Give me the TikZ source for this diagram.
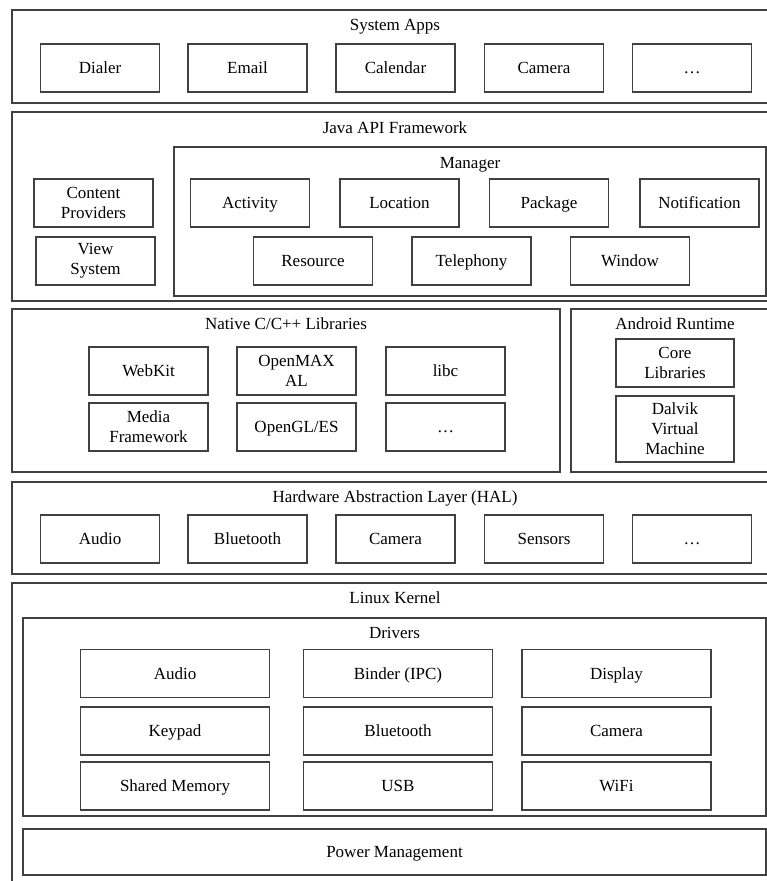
\documentclass[tikz,border=0pt]{standalone}
\usepackage{fontspec}
\setmainfont{Liberation Serif}
\usepackage{tikz}

\begin{document}
\begin{tikzpicture}[x=1pt,y=-1pt,
	font=\fontsize{17}{20}\selectfont,
	layer/.style={draw=black!75, line width=1.4pt},
	title/.style={text height=11.5pt, text depth=0.5pt},
	box/.style={draw=black!75, line width=1.4pt, minimum width=119pt, minimum height=48pt, inner sep=1pt, align=center},
	block/.style={box, title},
	wideblock/.style={block, minimum width=189pt}]

	\useasboundingbox (0,0) rectangle (767,881);
	\clip (0,0) rectangle (767,881);

	% System Apps
	\draw[layer] (12,10) rectangle (778,103);
	\node[title] (apps) at (395,25) {System Apps};
	\node[block] (dialer) at (100,68) {Dialer};
	\node[block] (email) at (247.5,68) {Email};
	\node[block] (calendar) at (395.5,68) {Calendar};
	\node[block] (appcam) at (544,68) {Camera};
	\node[block] (appmore) at (692,68) {\dots};

	% Java API Framework
	\draw[layer] (12,112) rectangle (778,301);
	\node[title] (java) at (395,128) {Java API Framework};
	\node[box] (content) at (93.5,203) {Content\\Providers};
	\node[box] (view) at (95.5,261) {View\\System};
	\draw[layer] (174,147) rectangle (766,296);
	\node[title] (manager) at (470,163) {Manager};
	\node[block] (activity) at (250,203) {Activity};
	\node[block] (location) at (399.5,203) {Location};
	\node[block] (package) at (549,203) {Package};
	\node[block] (notification) at (699.5,203) {Notification};
	\node[block] (resource) at (313,261) {Resource};
	\node[block] (telephony) at (471.5,261) {Telephony};
	\node[block] (window) at (630,261) {Window};

	% Native C/C++ Libraries
	\draw[layer] (12,309) rectangle (560,472);
	\node[title] (native) at (286,324) {Native C/C++ Libraries};
	\node[block] (webkit) at (148.5,371) {WebKit};
	\node[box] (openmax) at (296.5,371) {OpenMAX\\AL};
	\node[block] (libc) at (445.5,371) {libc};
	\node[box] (media) at (148.5,427) {Media\\Framework};
	\node[block] (opengl) at (296.5,427) {OpenGL/ES};
	\node[block] (libmore) at (445.5,427) {\dots};

	% Android Runtime
	\draw[layer] (571,309) rectangle (779,472);
	\node[title] (runtime) at (675,324) {Android Runtime};
	\node[box, minimum width=118pt] (core) at (675,363) {Core\\Libraries};
	\node[box, minimum width=118pt, minimum height=66pt] (dalvik) at (675,429) {Dalvik\\Virtual\\Machine};

	% HAL
	\draw[layer] (12,482) rectangle (778,574);
	\node[title] (hal) at (395,497) {Hardware Abstraction Layer (HAL)};
	\node[block] (halaudio) at (100,539) {Audio};
	\node[block] (halbt) at (247.5,539) {Bluetooth};
	\node[block] (halcam) at (395.5,539) {Camera};
	\node[block] (sensors) at (544,539) {Sensors};
	\node[block] (halmore) at (692,539) {\dots};

	% Linux Kernel
	\draw[layer] (12,583) rectangle (778,890);
	\node[title] (kernel) at (395,598) {Linux Kernel};
	\draw[layer] (23,618) rectangle (766,816);
	\node[title] (drivers) at (394.5,633) {Drivers};
	\node[wideblock] (audio) at (175,673.5) {Audio};
	\node[wideblock] (binder) at (398,673.5) {Binder (IPC)};
	\node[wideblock] (display) at (616.5,673.5) {Display};
	\node[wideblock] (keypad) at (175,731) {Keypad};
	\node[wideblock] (bluetooth) at (398,731) {Bluetooth};
	\node[wideblock] (camera) at (616.5,731) {Camera};
	\node[wideblock] (shmem) at (175,786) {Shared Memory};
	\node[wideblock] (usb) at (398,786) {USB};
	\node[wideblock] (wifi) at (616.5,786) {WiFi};
	\node[block, minimum width=743pt, minimum height=46pt] (power) at (394.5,852) {Power Management};

\end{tikzpicture}
\end{document}
